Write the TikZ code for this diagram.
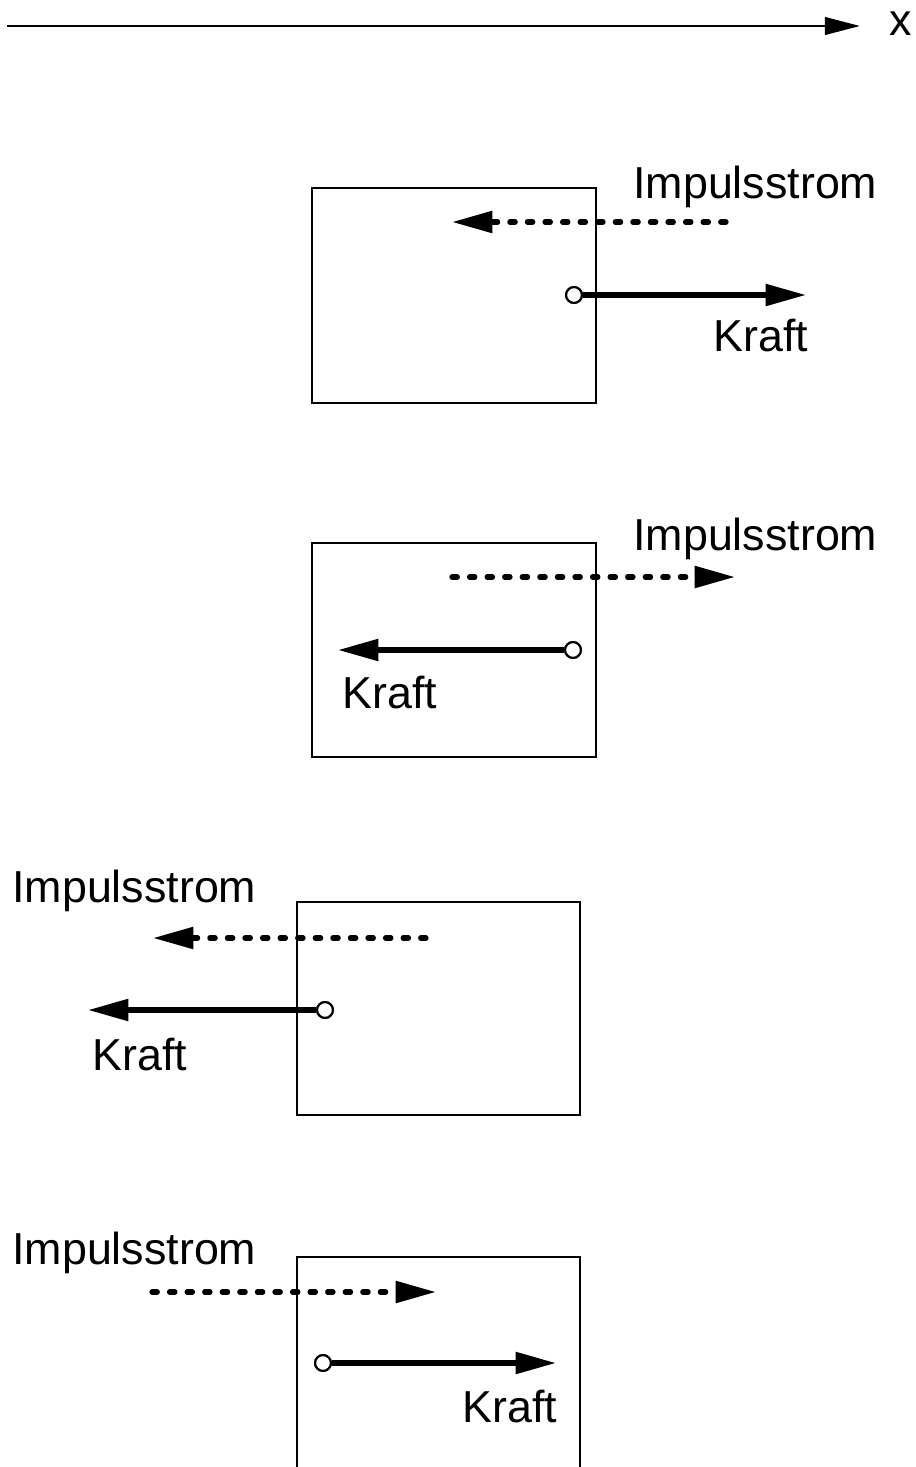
\documentclass[tikz,border=0pt]{standalone}
\usepackage{fontspec}
\setmainfont{Liberation Sans}
\usetikzlibrary{arrows.meta}

\begin{document}
\begin{tikzpicture}[x=0.02cm, y=-0.02cm,
	box/.style={line width=1.4pt},
	achse/.style={line width=1.4pt, -{Triangle[length=20pt,width=10pt]}},
	kraft/.style={line width=3pt, -{Triangle[length=23pt,width=12pt]}},
	strom/.style={line width=3pt, line cap=round, dash pattern=on 3pt off 7pt, -{Triangle[length=23pt,width=12pt]}},
	punkt/.style={circle, draw, fill=white, line width=1.2pt, minimum size=9pt, inner sep=0pt},
	txt/.style={anchor=base west, inner sep=0pt, font=\fontsize{25.5}{30}\selectfont}]
\useasboundingbox (0,0) rectangle (916,1467);

% x-Achse
\coordinate (x0) at (7,26);
\coordinate (x1) at (860,26);
\draw[achse] (x0) -- (x1);
\node[txt] (xlab) at (889,35) {x};

% Fall 1
\draw[box] (312,188) rectangle (596,403);
\coordinate (s1a) at (726,222);
\coordinate (s1b) at (452,222);
\draw[strom] (s1a) -- (s1b);
\coordinate (k1) at (806,295);
\node[punkt] (p1) at (574,295) {};
\draw[kraft] (p1) -- (k1);
\node[punkt] at (p1) {};
\node[txt] (i1) at (633,198) {Impulsstrom};
\node[txt] (f1) at (713,351) {Kraft};

% Fall 2
\draw[box] (312,543) rectangle (596,757);
\coordinate (s2a) at (452,577);
\coordinate (s2b) at (735,577);
\draw[strom] (s2a) -- (s2b);
\coordinate (k2) at (338,650);
\node[punkt] (p2) at (573,650) {};
\draw[kraft] (p2) -- (k2);
\node[punkt] at (p2) {};
\node[txt] (i2) at (633,550) {Impulsstrom};
\node[txt] (f2) at (342,708) {Kraft};

% Fall 3
\draw[box] (297,902) rectangle (580,1115);
\coordinate (s3a) at (426,938);
\coordinate (s3b) at (153,938);
\draw[strom] (s3a) -- (s3b);
\coordinate (k3) at (88,1010);
\node[punkt] (p3) at (325,1010) {};
\draw[kraft] (p3) -- (k3);
\node[punkt] at (p3) {};
\node[txt] (i3) at (12,902) {Impulsstrom};
\node[txt] (f3) at (92,1070) {Kraft};

% Fall 4
\draw[box] (297,1470) -- (297,1257) -- (580,1257) -- (580,1470);
\coordinate (s4a) at (152,1292);
\coordinate (s4b) at (436,1292);
\draw[strom] (s4a) -- (s4b);
\coordinate (k4) at (556,1363);
\node[punkt] (p4) at (323,1363) {};
\draw[kraft] (p4) -- (k4);
\node[punkt] at (p4) {};
\node[txt] (i4) at (12,1264) {Impulsstrom};
\node[txt] (f4) at (462,1422) {Kraft};
\end{tikzpicture}
\end{document}
